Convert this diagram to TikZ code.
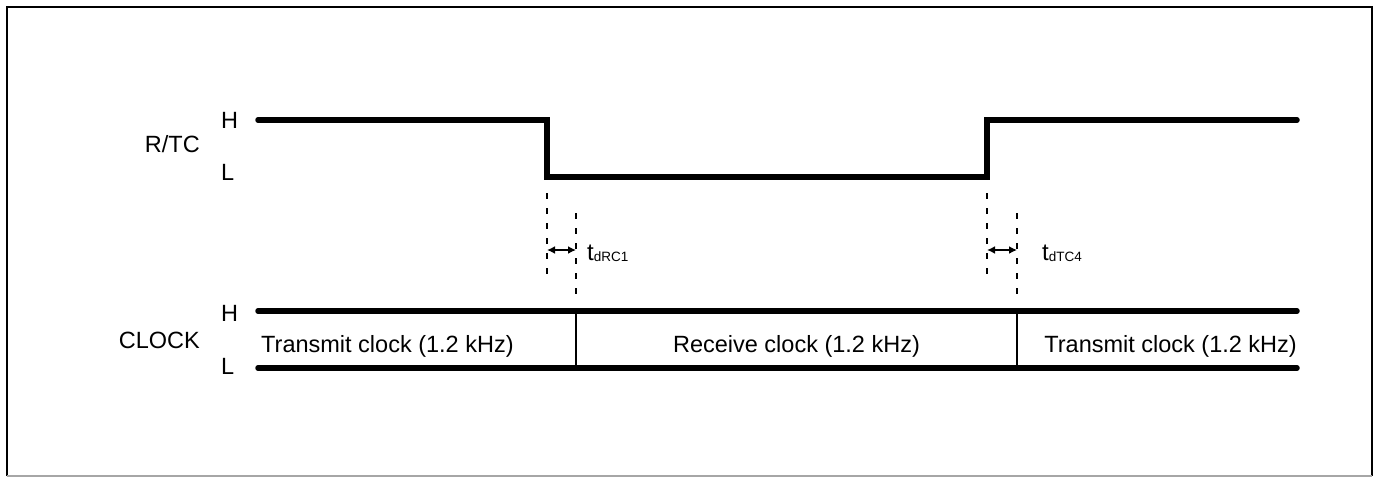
\documentclass[tikz,border=0pt]{standalone}
\usepackage{fontspec}
\setmainfont{Liberation Sans}
\usetikzlibrary{arrows.meta}
\begin{document}
\begin{tikzpicture}[x=1pt,y=-1pt,
  wave/.style={line width=5.5pt,line cap=round,line join=miter},
  sep/.style={line width=1.8pt},
  guide/.style={line width=2.4pt,dash pattern=on 6pt off 9pt},
  tdim/.style={line width=2.6pt,{Latex[length=8pt,width=8pt]}-{Latex[length=8pt,width=8pt]}},
  lbl/.style={inner sep=0pt,font=\fontsize{23.5}{27}\selectfont},
  frameline/.style={line width=2.6pt}]
\useasboundingbox (0,0) rectangle (1380,477);
% frame
\draw[frameline] (7,476) -- (7,7) -- (1372,7) -- (1372,476);
\draw[line width=1.4pt,gray!70] (7,476) -- (1372,476);
% R/TC waveform
\coordinate (r0) at (258,120);
\coordinate (r1) at (547,120);
\coordinate (r2) at (547,177);
\coordinate (r3) at (987,177);
\coordinate (r4) at (987,120);
\coordinate (r5) at (1297,120);
\draw[wave] (r0) -- (r1) -- (r2) -- (r3) -- (r4) -- (r5);
% CLOCK lines
\coordinate (cH0) at (258,311);
\coordinate (cH1) at (1297,311);
\coordinate (cL0) at (258,368);
\coordinate (cL1) at (1297,368);
\draw[wave] (cH0) -- (cH1);
\draw[wave] (cL0) -- (cL1);
\coordinate (s1t) at (576,311);
\coordinate (s1b) at (576,368);
\coordinate (s2t) at (1017,311);
\coordinate (s2b) at (1017,368);
\draw[sep] (s1t) -- (s1b);
\draw[sep] (s2t) -- (s2b);
% guides
\coordinate (g1a) at (547,193); \coordinate (g1b) at (547,274);
\coordinate (g2a) at (576,213); \coordinate (g2b) at (576,294);
\coordinate (g3a) at (987,193); \coordinate (g3b) at (987,274);
\coordinate (g4a) at (1017,213); \coordinate (g4b) at (1017,294);
\draw[guide] (g1a) -- (g1b);
\draw[guide] (g2a) -- (g2b);
\draw[guide] (g3a) -- (g3b);
\draw[guide] (g4a) -- (g4b);
\coordinate (d1a) at (547,250); \coordinate (d1b) at (576,250);
\coordinate (d2a) at (987,250); \coordinate (d2b) at (1017,250);
\draw[tdim] (d1a) -- (d1b);
\draw[tdim] (d2a) -- (d2b);
\node[inner sep=0pt,anchor=base west] (t1) at (587,260)
  {{\fontsize{24}{27}\selectfont t}\raisebox{-1pt}{\fontsize{13.5}{15}\selectfont dRC1}};
\node[inner sep=0pt,anchor=base west] (t2) at (1042,260)
  {{\fontsize{24}{27}\selectfont t}\raisebox{-1pt}{\fontsize{13.5}{15}\selectfont dTC4}};
% signal labels
\node[lbl,anchor=base east] (rtc) at (200,152) {R/TC};
\node[lbl,anchor=west] (rH) at (221,120) {H};
\node[lbl,anchor=west] (rL) at (221,172) {L};
\node[lbl,anchor=base east] (clk) at (200,348) {CLOCK};
\node[lbl,anchor=west] (cH) at (221,313) {H};
\node[lbl,anchor=west] (cL) at (221,366) {L};
% clock text
\node[lbl,anchor=base west] (tx1) at (261,352) {Transmit clock (1.2 kHz)};
\node[lbl,anchor=base] (rx) at (796.5,352) {Receive clock (1.2 kHz)};
\node[lbl,anchor=base east] (tx2) at (1297,352) {Transmit clock (1.2 kHz)};
\end{tikzpicture}
\end{document}
